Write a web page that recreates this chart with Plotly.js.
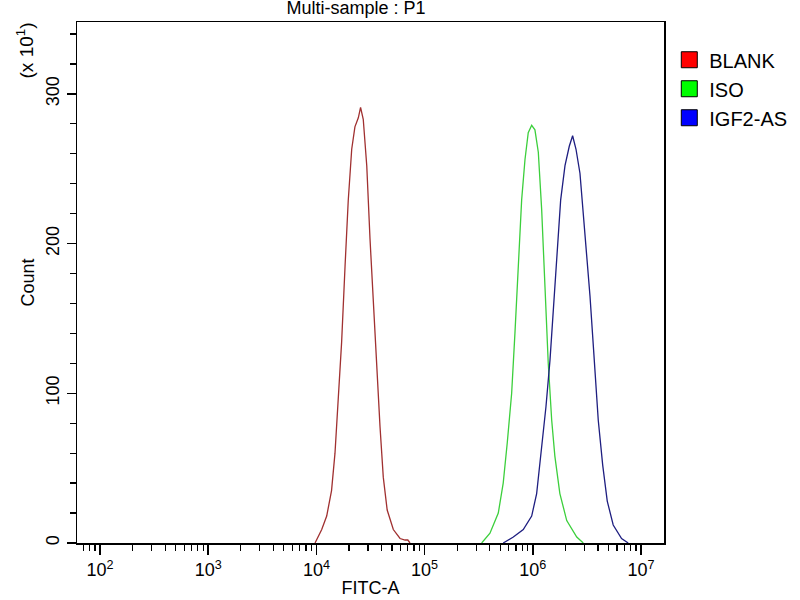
<!DOCTYPE html>
<html>
<head>
<meta charset="utf-8">
<script src="https://cdn.plot.ly/plotly-3.0.1.min.js"></script>
<style>html,body{margin:0;padding:0;background:#fff;}#chart{width:800px;height:600px;}</style>
</head>
<body>
<div id="chart"></div>
<script>
// FITC-A values (log scale) and counts (x10^1)
const blankX = [9.71e3, 1.12e4, 1.245e4, 1.38e4, 1.485e4, 1.59e4, 1.71e4, 1.84e4, 1.97e4, 2.12e4, 2.27e4, 2.44e4, 2.56e4, 2.71e4, 2.92e4, 3.13e4, 3.36e4, 3.61e4, 3.87e4, 4.15e4, 4.51e4, 5.14e4, 5.93e4, 6.6e4, 7.0e4, 7.33e4];
const blankY = [0, 9, 18, 35, 60, 96, 134, 185, 229, 263, 278, 284, 291, 283, 252, 203, 158, 118, 78, 44, 22, 9, 3, 2, 2, 0];

const isoX = [3.37e5, 4.02e5, 4.80e5, 5.33e5, 5.81e5, 6.38e5, 6.84e5, 7.34e5, 7.89e5, 8.47e5, 9.08e5, 9.77e5, 1.047e6, 1.125e6, 1.208e6, 1.297e6, 1.39e6, 1.496e6, 1.60e6, 1.78e6, 2.06e6, 2.55e6, 2.93e6];
const isoY = [0, 6.5, 20, 40, 67, 100, 140, 185, 229, 256, 274, 279, 276, 261, 223, 171, 120, 82, 58, 33, 15, 4, 0];

const igfX = [5.33e5, 6.61e5, 8.17e5, 9.77e5, 1.086e6, 1.208e6, 1.324e6, 1.442e6, 1.57e6, 1.683e6, 1.81e6, 1.985e6, 2.175e6, 2.335e6, 2.51e6, 2.73e6, 3.03e6, 3.38e6, 3.68e6, 4.03e6, 4.43e6, 4.88e6, 5.54e6, 6.62e6, 7.62e6];
const igfY = [0, 4, 9, 18, 33, 62, 91, 122, 162, 196, 229, 252, 265, 272, 263, 247, 207, 165, 125, 82, 52, 28, 12, 3, 0];

const seriesNames = ["BLANK", "ISO", "IGF2-AS"];
const xTickVals = [1e2, 1e3, 1e4, 1e5, 1e6, 1e7];
const xTickText = ["10<sup>2</sup>", "10<sup>3</sup>", "10<sup>4</sup>", "10<sup>5</sup>", "10<sup>6</sup>", "10<sup>7</sup>"];
const yTickVals = [0, 100, 200, 300];

const lineColors = ["#a03030", "#3ccf3c", "#1e1e80"];
const legendColors = ["#ff0000", "#00ff00", "#0000ff"];
const xs = [blankX, isoX, igfX];
const ys = [blankY, isoY, igfY];

const FONT = "Liberation Sans, Arial, sans-serif";
const traces = [];
for (let i = 0; i < 3; i++) {
  traces.push({
    type: "scatter", mode: "lines", x: xs[i], y: ys[i],
    line: {color: lineColors[i], width: 1.3},
    showlegend: false, hoverinfo: "skip"
  });
}
for (let i = 0; i < 3; i++) {
  traces.push({
    type: "scatter", mode: "markers", x: [null], y: [null], name: seriesNames[i],
    marker: {symbol: "square", size: 16, color: legendColors[i], line: {color: "#000", width: 1}},
    showlegend: true
  });
}

const layout = {
  width: 800, height: 600,
  paper_bgcolor: "#fff", plot_bgcolor: "#fff",
  margin: {l: 77, r: 136, t: 22, b: 57, autoexpand: false},
  font: {family: FONT, color: "#000", size: 18},
  title: {text: "Multi-sample : P1", x: 0.445, xanchor: "center", xref: "container",
          y: 0.997, yanchor: "top", yref: "container", pad: {t: 0},
          font: {family: FONT, size: 18, color: "#000"}},
  xaxis: {
    type: "log", range: [1.787, 7.213],
    tickmode: "array", tickvals: xTickVals, ticktext: xTickText,
    ticks: "outside", ticklen: 10, tickwidth: 1.5, tickcolor: "#000",
    minor: {ticks: "outside", ticklen: 6, tickwidth: 1.3, tickcolor: "#000", dtick: "D1", showgrid: false},
    showline: true, linecolor: "#000", linewidth: 1.5, mirror: true,
    showgrid: false, zeroline: false, automargin: false,
    tickfont: {family: FONT, size: 18, color: "#000"},
    title: {text: "FITC-A", font: {family: FONT, size: 18, color: "#000"}, standoff: 2}
  },
  yaxis: {
    range: [0, 348],
    tickmode: "array", tickvals: yTickVals,
    tickangle: -90,
    ticks: "outside", ticklen: 9, tickwidth: 1.5, tickcolor: "#000",
    minor: {ticks: "outside", ticklen: 6, tickwidth: 1.3, tickcolor: "#000", dtick: 20, showgrid: false},
    showline: true, linecolor: "#000", linewidth: 1.5, mirror: true,
    showgrid: false, zeroline: false, automargin: false,
    tickfont: {family: FONT, size: 18, color: "#000"},
    title: {text: "Count", font: {family: FONT, size: 18, color: "#000"}, standoff: 4}
  },
  legend: {
    x: 1.009, xanchor: "left", y: 0.965, yanchor: "top",
    bgcolor: "rgba(0,0,0,0)", borderwidth: 0,
    font: {family: FONT, size: 20, color: "#000"},
    itemsizing: "trace", tracegroupgap: 0
  },
  annotations: [{
    text: "(x 10<sup>1</sup>)", xref: "paper", yref: "paper",
    x: -0.088, y: 0.946, xanchor: "center", yanchor: "middle",
    textangle: -90, showarrow: false,
    font: {family: FONT, size: 19, color: "#000"}
  }],
  showlegend: true
};

Plotly.newPlot("chart", traces, layout, {displayModeBar: false, staticPlot: true});
</script>
</body>
</html>
